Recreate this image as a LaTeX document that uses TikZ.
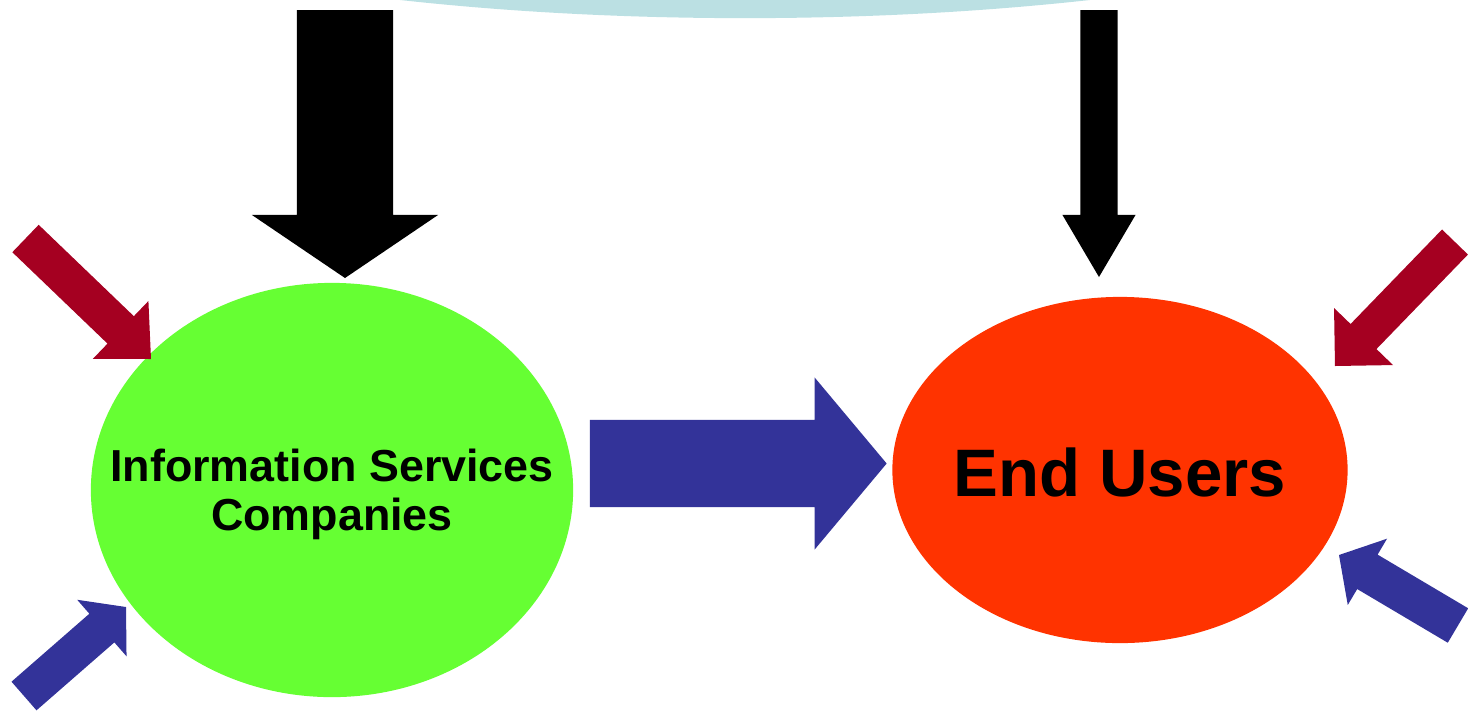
\documentclass[tikz,border=0pt]{standalone}
\usepackage{fontspec}
\setmainfont{Liberation Sans}
\usetikzlibrary{calc,shapes.geometric}

\definecolor{lgrn}{RGB}{102,255,51}
\definecolor{orng}{RGB}{255,51,0}
\definecolor{dblu}{RGB}{51,51,153}
\definecolor{dred}{RGB}{165,0,33}
\definecolor{lcyn}{RGB}{187,224,227}
\tikzstyle{flow}=[
    x=0.01cm, y=-0.01cm,
    blob/.style={ellipse, inner sep=0pt},
    blob label/.style={align=center, inner sep=0pt},
    block arrow/.style={draw=none},
]
\newcommand{\blockarrow}[6][]{
    % #2 tail, #3 tip, #4 half shaft, #5 half head, #6 head length
    \coordinate (hb) at ($(#3)!#6!(#2)$);
    \fill[block arrow,#1]
        ($(#2)!#4!90:(#3)$)
        -- ($(hb)!#4!-90:(#2)$)
        -- ($(hb)!#5!-90:(#2)$)
        -- (#3)
        -- ($(hb)!#5!90:(#2)$)
        -- ($(hb)!#4!90:(#2)$)
        -- ($(#2)!#4!-90:(#3)$)
        -- cycle;
}

\begin{document}
\begin{tikzpicture}[flow]
    \clip (0,0) rectangle (1468,711);

    % lower rim of the source cloud
    \fill[lcyn] (745,-200) ellipse [x radius=8.62cm, y radius=2.18cm];

    \node[blob, fill=lgrn, minimum width=4.82cm, minimum height=4.14cm] (isc) at (332,490) {};
    \node[blob, fill=orng, minimum width=4.55cm, minimum height=3.46cm] (users) at (1120,470) {};
    \node[blob label, text depth=0pt, font={\bfseries\fontsize{12.75}{13.9}\selectfont}]
        (isc name) at (isc) {Information Services\\Companies};
    \node[blob label, font={\bfseries\fontsize{19.1}{21}\selectfont}]
        (users name) at ([yshift=-0.025cm]users.center) {End Users};

    \coordinate (main isc) at (345,10);       \coordinate (tip of main isc) at (345,278);
    \coordinate (main users) at (1099,10);    \coordinate (tip of main users) at (1099,277);
    \coordinate (supply) at ($(isc.east)+(16,-26.5)$);
    \coordinate (tip of supply) at ($(users.west)+(-5,-6.5)$);
    \coordinate (side isc) at (25.5,238.5);   \coordinate (tip of side isc) at (151,359);
    \coordinate (side users) at (1455,242);   \coordinate (tip of side users) at (1335,366);
    \coordinate (back isc) at (24,696);       \coordinate (tip of back isc) at (126,607);
    \coordinate (back users) at (1458,625.5); \coordinate (tip of back users) at (1339,555);

    \foreach \a/\c/\w/\h/\l in {
        main isc/black/0.48cm/0.93cm/0.63cm,
        main users/black/0.185cm/0.365cm/0.62cm,
        supply/dblu/0.435cm/0.86cm/0.72cm,
        side isc/dred/0.19cm/0.40cm/0.42cm,
        side users/dred/0.18cm/0.41cm/0.41cm,
        back isc/dblu/0.19cm/0.375cm/0.32cm,
        back users/dblu/0.20cm/0.385cm/0.33cm}
        {\blockarrow[fill=\c]{\a}{tip of \a}{\w}{\h}{\l}}
\end{tikzpicture}
\end{document}
